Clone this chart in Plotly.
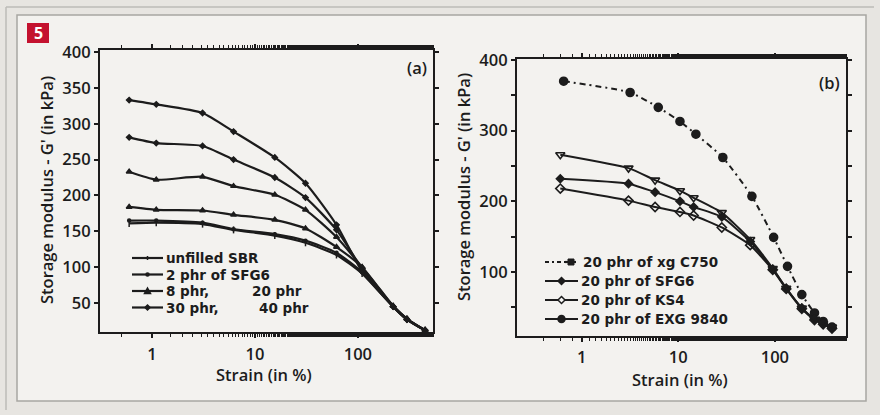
import plotly.graph_objects as go

# ---- data: panel (a), G' vs strain for SBR with SFG6 loadings ----
strain_a = [0.6, 1.1, 3.1, 6.2, 15.6, 31, 62, 110, 220, 300, 450]
g_40phr = [333, 327, 315, 289, 253, 217, 159, 94, 45, 27, 12]
g_30phr = [281, 273, 269, 250, 225, 197, 152, 98, 45, 27, 12]
g_20phr = [233, 222, 226, 213, 201, 180, 142, 100, 46, 28, 12]
g_8phr = [184, 180, 179, 173, 166, 154, 128, 100, 46, 28, 12]
g_2phr = [165, 165, 162, 153, 146, 137, 120, 93, 46, 28, 12]
g_unfilled = [161, 162, 160, 152, 144, 134, 117, 91, 45, 27, 12]

# ---- data: panel (b), 20 phr of different graphites ----
strain_xg = [0.65, 3.17, 6.2, 10.4, 15.2, 28.9, 57.8, 97, 135, 190, 257, 316, 390]
g_xg = [370, 354, 333, 313, 295, 262, 207, 149, 108, 68, 42, 30, 22]
strain_b = [0.6, 3.05, 5.75, 10.4, 14.4, 28.2, 55.5, 95, 131, 190, 257, 316, 390]
g_exg = [266, 247, 230, 215, 205, 184, 146, 105, 77, 49, 33, 27, 22]
g_sfg6 = [232, 225, 213, 200, 192, 178, 143, 104, 77, 49, 33, 27, 21]
g_ks4 = [218, 201, 192, 185, 180, 163, 138, 103, 76, 48, 32, 26, 20]

yticks_a = [50, 100, 150, 200, 250, 300, 350, 400]
yticks_b = [50, 100, 150, 200, 250, 300, 350, 400]
yticktext_b = ["", "100", "", "200", "", "300", "", "400"]
xticks = [1, 10, 100]
xticktext = ["1", "10", "100"]

INK = "#1c1c1c"
PLOT_BG = "#f7f7f5"
FONT = "Open Sans"
LEG_FONT = "DejaVu Sans"
FS = 16.5
LEG_FS = 13.5
W, H = 880, 415

fig = go.Figure()


def px_x(v):
    return v / W


def px_y(v):
    return 1 - v / H


series_a = [
    ("unfilled SBR", g_unfilled, "line-ns-open", 5),
    ("2 phr of SFG6", g_2phr, "circle", 3),
    ("8 phr", g_8phr, "triangle-up", 5),
    ("20 phr", g_20phr, "triangle-up", 5),
    ("30 phr", g_30phr, "diamond", 4),
    ("40 phr", g_40phr, "diamond", 4),
]
for name, ys, sym, sz in series_a:
    fig.add_trace(go.Scatter(
        x=strain_a, y=ys, name=name, mode="lines+markers",
        line=dict(color=INK, width=2.2, shape="spline", smoothing=0.6),
        marker=dict(symbol=sym, size=sz, color=INK, line=dict(color=INK, width=1.5)),
        xaxis="x", yaxis="y", showlegend=False,
    ))

series_b = [
    ("20 phr of xg C750", strain_xg, g_xg, "circle", 8, "6px,4px,2px,4px"),
    ("20 phr of SFG6", strain_b, g_sfg6, "diamond", 6, "solid"),
    ("20 phr of KS4", strain_b, g_ks4, "diamond-open", 7, "solid"),
    ("20 phr of EXG 9840", strain_b, g_exg, "triangle-down-open", 8, "solid"),
]
for name, xs, ys, sym, sz, dash in series_b:
    fig.add_trace(go.Scatter(
        x=xs, y=ys, name=name, mode="lines+markers",
        line=dict(color=INK, width=2, dash=dash, shape="spline", smoothing=0.5),
        marker=dict(symbol=sym, size=sz, color=INK, line=dict(color=INK, width=1.6)),
        xaxis="x2", yaxis="y2", showlegend=False,
    ))

tickfont = dict(family=FONT, size=FS, color=INK, weight=600)
axis_common = dict(
    showline=True, linecolor=INK, linewidth=2.2, mirror="allticks",
    ticks="outside", ticklen=4, tickwidth=1.6, tickcolor=INK,
    showgrid=False, zeroline=False, tickfont=tickfont, automargin=False,
)
xaxis_common = dict(
    axis_common, type="log", tickvals=xticks, ticktext=xticktext,
    minor=dict(ticks="outside", ticklen=3, tickwidth=1.2, tickcolor=INK, showgrid=False),
)

fig.update_layout(
    width=W, height=H,
    margin=dict(l=0, r=0, t=0, b=0, autoexpand=False),
    paper_bgcolor="#e7e5e1",
    plot_bgcolor=PLOT_BG,
    showlegend=False,
    font=dict(family=FONT, color=INK),
    xaxis=dict(xaxis_common, domain=[px_x(100), px_x(433)],
               range=[-0.505, 2.73], anchor="y", ticklabelstandoff=2),
    yaxis=dict(axis_common, domain=[px_y(332), px_y(50)], range=[9.6, 402.8],
               tickvals=yticks_a, anchor="x"),
    xaxis2=dict(xaxis_common, domain=[px_x(517), px_x(846)],
                range=[-0.67, 2.736], anchor="y2", ticklabelstandoff=1),
    yaxis2=dict(axis_common, domain=[px_y(336), px_y(59)], range=[9.4, 401.4],
                tickvals=yticks_b, ticktext=yticktext_b, anchor="x2"),
)

# figure frame and panel number
fig.add_shape(type="rect", xref="paper", yref="paper",
              x0=px_x(17), x1=px_x(866), y0=px_y(401), y1=px_y(15),
              fillcolor="#f3f2ef", line=dict(color="#a8a6a2", width=1.5), layer="below")
fig.add_shape(type="line", xref="paper", yref="paper",
              x0=px_x(6), x1=px_x(874), y0=px_y(7), y1=px_y(7),
              line=dict(color="#bdbbb7", width=1.5), layer="below")
fig.add_shape(type="line", xref="paper", yref="paper",
              x0=px_x(6), x1=px_x(6), y0=px_y(410), y1=px_y(7),
              line=dict(color="#bdbbb7", width=1.5), layer="below")
fig.add_shape(type="rect", xref="paper", yref="paper",
              x0=px_x(27), x1=px_x(49), y0=px_y(43), y1=px_y(23),
              fillcolor="#c4122f", line=dict(width=0))


# legend keys: a short line with a small marker glyph
def key(x0, x1, y, dash="solid", glyph=None, gx=None, gs=3, open_=False):
    fig.add_shape(type="line", xref="paper", yref="paper",
                  x0=px_x(x0), x1=px_x(x1), y0=px_y(y), y1=px_y(y),
                  line=dict(color=INK, width=2.2, dash=dash))
    if glyph is None:
        return
    gx = (x0 + x1) / 2 if gx is None else gx
    fill = PLOT_BG if open_ else INK
    if glyph == "circle":
        fig.add_shape(type="circle", xref="paper", yref="paper",
                      x0=px_x(gx - gs), x1=px_x(gx + gs), y0=px_y(y + gs), y1=px_y(y - gs),
                      fillcolor=fill, line=dict(color=INK, width=1.5))
    elif glyph == "square":
        fig.add_shape(type="rect", xref="paper", yref="paper",
                      x0=px_x(gx - gs), x1=px_x(gx + gs), y0=px_y(y + gs), y1=px_y(y - gs),
                      fillcolor=fill, line=dict(color=INK, width=1))
    else:
        if glyph == "tri":
            pts = [(gx - gs, y + gs * 0.8), (gx + gs, y + gs * 0.8), (gx, y - gs)]
        elif glyph == "tick":
            pts = [(gx, y - gs), (gx, y + gs)]
        else:  # diamond
            pts = [(gx, y - gs), (gx + gs, y), (gx, y + gs), (gx - gs, y)]
        path = "M " + " L ".join(f"{px_x(a)},{px_y(b)}" for a, b in pts)
        if glyph != "tick":
            path += " Z"
        fig.add_shape(type="path", xref="paper", yref="paper", path=path,
                      fillcolor=fill, line=dict(color=INK, width=1.5))


def legend_text(txt, x, y):
    fig.add_annotation(xref="paper", yref="paper", showarrow=False, text=txt,
                       x=px_x(x), y=px_y(y), xanchor="left", yanchor="middle",
                       borderpad=0,
                       font=dict(family=LEG_FONT, size=LEG_FS, color=INK, weight=700))


# panel (a) legend
rows_a = [258, 274.5, 291, 307.5]
key(132, 163, rows_a[0], glyph="tick", gs=2)
key(132, 163, rows_a[1], glyph="circle", gs=1.5)
key(132, 163, rows_a[2], glyph="tri", gs=3)
key(132, 163, rows_a[3], glyph="diamond", gs=2.5)
legend_text("unfilled SBR", 165, rows_a[0])
legend_text("2 phr of SFG6", 165, rows_a[1])
legend_text("8 phr,", 165, rows_a[2])
legend_text("20 phr", 251, rows_a[2])
legend_text("30 phr,", 165, rows_a[3])
legend_text("40 phr", 258, rows_a[3])

# panel (b) legend
rows_b = [262, 281, 300, 319]
key(545, 565, rows_b[0], dash="4px,3px,2px,3px")
key(565, 576, rows_b[0], glyph="square", gx=571, gs=3)
key(545, 578, rows_b[1], glyph="diamond", gs=3.5)
key(545, 578, rows_b[2], glyph="diamond", gs=3.5, open_=True)
key(545, 578, rows_b[3], glyph="circle", gs=3.5)
legend_text("20 phr of xg C750", 582, rows_b[0])
legend_text("20 phr of SFG6", 580, rows_b[1])
legend_text("20 phr of KS4", 580, rows_b[2])
legend_text("20 phr of EXG 9840", 580, rows_b[3])

annotations = [
    dict(text="5", x=px_x(38), y=px_y(33), font=dict(size=16, color="white", weight=700)),
    dict(text="(a)", x=px_x(417), y=px_y(68), font=dict(size=FS, color=INK, weight=600)),
    dict(text="(b)", x=px_x(829), y=px_y(82), font=dict(size=FS, color=INK, weight=600)),
    dict(text="Strain (in %)", x=px_x(264), y=px_y(374), font=dict(size=FS, color=INK, weight=600)),
    dict(text="Strain (in %)", x=px_x(680), y=px_y(379), font=dict(size=FS, color=INK, weight=600)),
    dict(text="Storage modulus - G' (in kPa)", x=px_x(47), y=px_y(190), textangle=-90,
         font=dict(size=FS, color=INK, weight=600)),
    dict(text="Storage modulus - G' (in kPa)", x=px_x(464), y=px_y(187), textangle=-90,
         font=dict(size=FS, color=INK, weight=600)),
]
for a in annotations:
    fig.add_annotation(xref="paper", yref="paper", showarrow=False,
                       xanchor="center", yanchor="middle", font_family=FONT, **a)

fig.write_html("out.html")
